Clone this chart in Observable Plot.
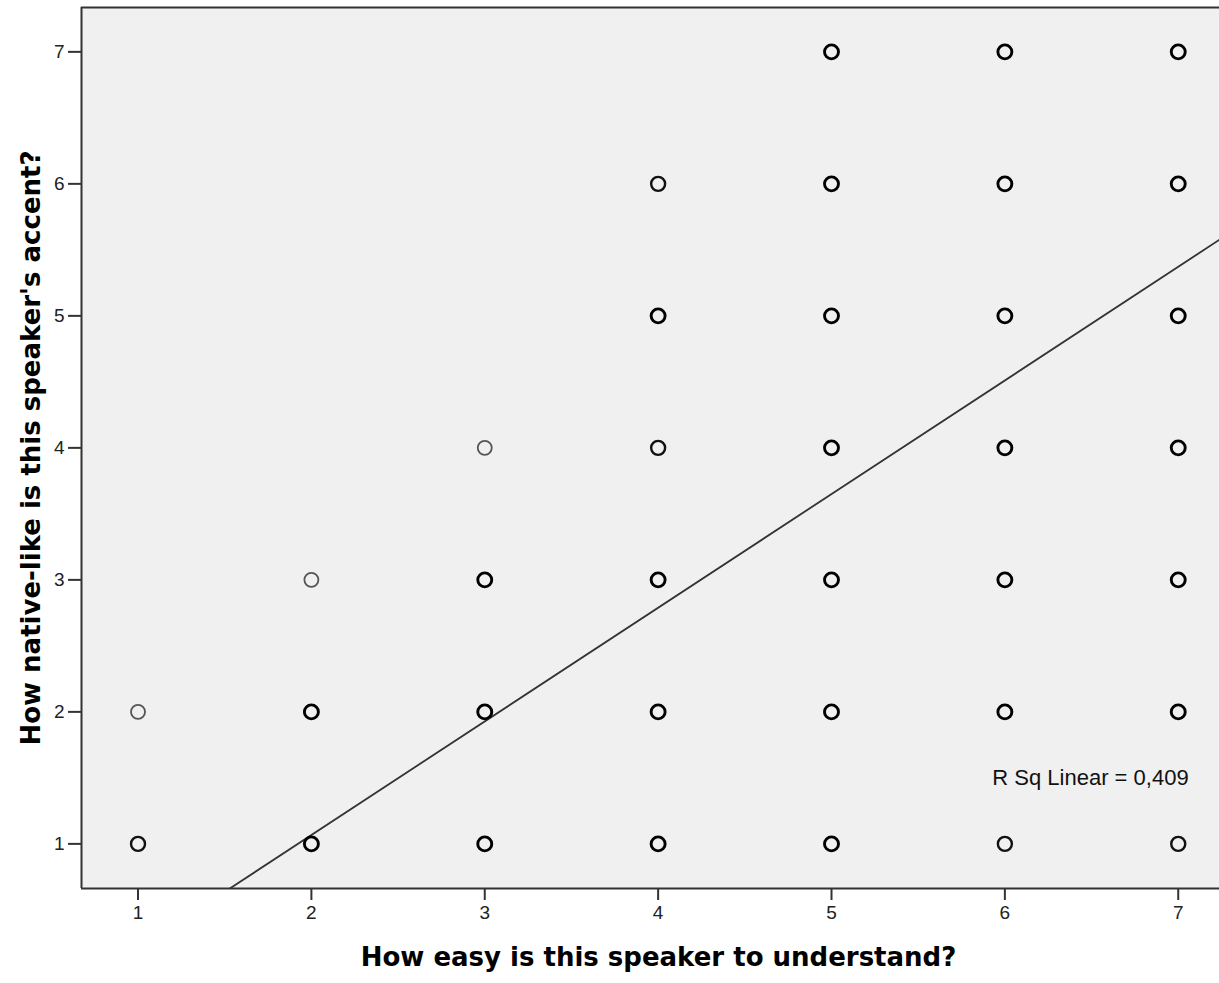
<!DOCTYPE html>
<html>
<head>
<meta charset="utf-8">
<script src="https://cdn.jsdelivr.net/npm/d3@7"></script>
<script src="https://cdn.jsdelivr.net/npm/@observablehq/plot@0.6"></script>
<style>
  body { margin: 0; background: #fff; overflow: hidden; }
  svg { display: block; }
</style>
</head>
<body>
<div id="chart"></div>
<script>
// ---- Data ----
// each cell: ease rating (x), accent rating (y), and how many responses overlap there (estimated from darkness)
const easeRating   = [1,1, 2,2,2, 3,3,3,3, 4,4,4,4,4,4, 5,5,5,5,5,5,5, 6,6,6,6,6,6,6, 7,7,7,7,7,7,7];
const accentRating = [1,2, 1,2,3, 1,2,3,4, 1,2,3,4,5,6, 1,2,3,4,5,6,7, 1,2,3,4,5,6,7, 1,2,3,4,5,6,7];
const overlapCount = [2,1, 3,3,1, 3,3,3,1, 3,3,3,2,3,2, 3,3,3,3,3,3,3, 2,3,3,3,3,3,3, 2,3,3,3,3,3,3];

const xTicks = [1, 2, 3, 4, 5, 6, 7];
const yTicks = [1, 2, 3, 4, 5, 6, 7];

// linear fit
const fitSlope = 0.861;
const fitIntercept = -0.655;
const rSquared = "0,409";
const rsqLabelPos = [7.06, 1.5];

const xTitle = "How easy is this speaker to understand?";
const yTitle = "How native-like is this speaker's accent?";

const xDomain = [0.674, 7.238];
const yDomain = [0.662, 7.336];

// ---- Build table ----
const cells = easeRating.map((x, i) => ({x, y: accentRating[i], n: overlapCount[i]}));
const fitPts = xDomain.map(x => ({x, y: fitIntercept + fitSlope * x}));
const strokeFor = n => n >= 3 ? "#000" : n === 2 ? "#111" : "#555";
const widthFor = n => n >= 3 ? 2.9 : n === 2 ? 2.4 : 1.8;

const plot = Plot.plot({
  width: 1219,
  height: 983,
  marginLeft: 81,
  marginRight: 0,
  marginTop: 7,
  marginBottom: 95,
  style: {background: "#fff", fontFamily: "'Liberation Sans', Arial, sans-serif", fontSize: "19px", color: "#222"},
  color: {type: "identity"},
  x: {domain: xDomain, label: null},
  y: {domain: yDomain, label: null},
  marks: [
    Plot.frame({fill: "#f0f0f0", stroke: "none"}),
    Plot.line(fitPts, {x: "x", y: "y", stroke: "#333", strokeWidth: 1.8, clip: true}),
    Plot.dot(cells, {x: "x", y: "y", r: 7, fill: "none",
      stroke: d => strokeFor(d.n), strokeWidth: d => widthFor(d.n)}),
    Plot.text([rSquared], {x: () => rsqLabelPos[0], y: () => rsqLabelPos[1],
      text: d => `R Sq Linear = ${d}`, textAnchor: "end", fontSize: 22, fill: "#111"}),
    Plot.ruleX([xDomain[0]], {stroke: "#333", strokeWidth: 2}),
    Plot.ruleY([yDomain[0], yDomain[1]], {stroke: "#333", strokeWidth: 2}),
    Plot.axisX({ticks: xTicks, tickFormat: d => String(d), tickSize: 12, tickPadding: 5,
      fontSize: 19, label: null, stroke: "#333", strokeWidth: 2}),
    Plot.axisY({ticks: yTicks, tickFormat: d => String(d), tickSize: 13, tickPadding: 4,
      fontSize: 19, label: null, stroke: "#333", strokeWidth: 2}),
    Plot.text([xTitle], {text: d => d, frameAnchor: "bottom", dx: 8, dy: 77,
      textAnchor: "middle",
      fontFamily: "'DejaVu Sans', sans-serif", fontWeight: "bold", fontSize: 26, fill: "#000"}),
    Plot.text([yTitle], {text: d => d, frameAnchor: "left", dx: -50, rotate: -90,
      textAnchor: "middle",
      fontFamily: "'DejaVu Sans', sans-serif", fontWeight: "bold", fontSize: 26, fill: "#000"})
  ]
});
document.getElementById("chart").appendChild(plot);
</script>
</body>
</html>
